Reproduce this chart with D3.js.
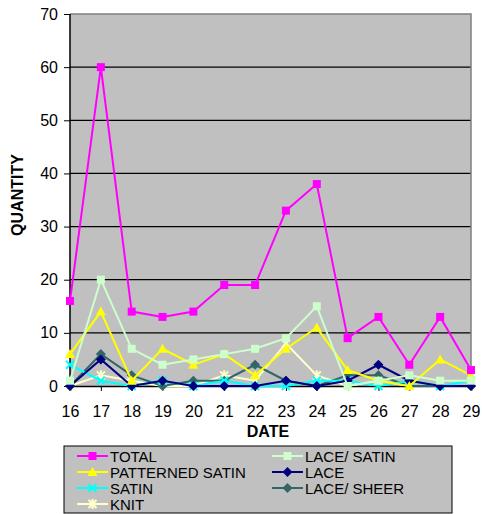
<!DOCTYPE html>
<html><head><meta charset="utf-8">
<script src="https://cdn.jsdelivr.net/npm/d3@7"></script>
<style>body{margin:0;background:#fff}svg{display:block}</style>
</head><body>
<script>
const dates = ["16","17","18","19","20","21","22","23","24","25","26","27","28","29"];
const yTicks = [0,10,20,30,40,50,60,70];
const total          = [16,60,14,13,14,19,19,33,38,9,13,4,13,3];
const laceSatin      = [1,20,7,4,5,6,7,9,15,0,1,2,1,1];
const patternedSatin = [6,14,1,7,4,6,2,7,11,3,1,0,5,2];
const lace           = [0,5,0,1,0,0,0,1,0,1,4,1,0,0];
const satin          = [4,1,0,1,0,1,0,0,1,1,0,1,0,1];
const laceSheer      = [0,6,2,0,1,1,4,1,0,2,2,0,0,0];
const knit           = [0,2,1,0,0,2,1,8,2,0,1,0,0,0];

const series = [
  {name:"TOTAL", values:total, color:"#FF00FF", marker:"square"},
  {name:"LACE/ SATIN", values:laceSatin, color:"#CCFFCC", marker:"square"},
  {name:"PATTERNED SATIN", values:patternedSatin, color:"#FFFF00", marker:"triangle"},
  {name:"LACE", values:lace, color:"#000080", marker:"diamond"},
  {name:"SATIN", values:satin, color:"#00FFFF", marker:"x"},
  {name:"LACE/ SHEER", values:laceSheer, color:"#336666", marker:"diamond"},
  {name:"KNIT", values:knit, color:"#FFFFCC", marker:"star"}
];

const W=482,H=514;
const svg=d3.select("body").append("svg").attr("width",W).attr("height",H)
  .style("font-family","Arial, 'Liberation Sans', sans-serif");
const L=70,R=471,T=14,B=386;
const x=d3.scalePoint().domain(dates).range([L,R]);
const y=d3.scaleLinear().domain([0,70]).range([B,T]);

svg.append("rect").attr("x",L).attr("y",T).attr("width",R-L).attr("height",B-T).attr("fill","#C0C0C0");
svg.append("g").selectAll("line").data(yTicks.filter(d=>d>0&&d<70)).join("line")
  .attr("x1",L).attr("x2",R).attr("y1",d=>y(d)).attr("y2",d=>y(d)).attr("stroke","#000").attr("stroke-width",1.2);
svg.append("path").attr("d",`M${L},${T}H${R}V${B}`).attr("fill","none").attr("stroke","#808080").attr("stroke-width",1.5);

const ya=svg.append("g").attr("transform",`translate(${L},0)`)
  .call(d3.axisLeft(y).tickValues(yTicks).tickSize(6).tickPadding(6));
const xa=svg.append("g").attr("transform",`translate(0,${B})`)
  .call(d3.axisBottom(x).tickSize(5).tickPadding(15));
[ya,xa].forEach(a=>{a.select(".domain").attr("stroke","#000").attr("stroke-width",1.5);
  a.selectAll("line").attr("stroke","#000");
  a.selectAll("text").attr("font-size",16).attr("fill","#000").attr("font-family","Arial, 'Liberation Sans', sans-serif");});
ya.select(".domain").attr("d",`M0,${T}V${B}`);

svg.append("text").attr("x",268).attr("y",437).attr("text-anchor","middle").attr("font-weight","bold").attr("font-size",16).text("DATE");
svg.append("text").attr("transform","translate(23,195) rotate(-90)").attr("text-anchor","middle").attr("font-weight","bold").attr("font-size",16).text("QUANTITY");

function drawMarker(g,type,color,s){
  if(type==="square") g.append("rect").attr("x",-s).attr("y",-s).attr("width",2*s).attr("height",2*s).attr("fill",color);
  else if(type==="triangle") g.append("path").attr("d",`M0,${-s-1}L${s+1},${s}L${-s-1},${s}Z`).attr("fill",color);
  else if(type==="diamond") g.append("path").attr("d",`M0,${-s-1}L${s+1},0L0,${s+1}L${-s-1},0Z`).attr("fill",color);
  else if(type==="x") g.append("path").attr("d",`M${-s},${-s}L${s},${s}M${-s},${s}L${s},${-s}`).attr("stroke",color).attr("stroke-width",2);
  else if(type==="star") g.append("path").attr("d",`M${-s},${-s}L${s},${s}M${-s},${s}L${s},${-s}M0,${-s-1}V${s+1}`).attr("stroke",color).attr("stroke-width",2);
}

const line=d3.line().x((d,i)=>x(dates[i])).y(d=>y(d));
const order=[...series].reverse();
order.forEach(s=>{
  svg.append("path").datum(s.values).attr("d",line).attr("fill","none").attr("stroke",s.color).attr("stroke-width",2);
  s.values.forEach((v,i)=>{
    const g=svg.append("g").attr("transform",`translate(${x(dates[i])},${y(v)})`);
    drawMarker(g,s.marker,s.color,4);
  });
});

const lg=svg.append("g");
lg.append("rect").attr("x",64).attr("y",446).attr("width",388).attr("height",67).attr("fill","#C0C0C0").attr("stroke","#000").attr("stroke-width",1);
const cols=[[0,2,4,6],[1,3,5]];
cols.forEach((c,ci)=>{
  c.forEach((si,ri)=>{
    const s=series[si];
    const x0=ci===0?77:272, yy=456+ri*16;
    lg.append("line").attr("x1",x0).attr("x2",x0+31).attr("y1",yy).attr("y2",yy).attr("stroke",s.color).attr("stroke-width",2);
    const g=lg.append("g").attr("transform",`translate(${x0+15.5},${yy})`);
    drawMarker(g,s.marker,s.color,4);
    lg.append("text").attr("x",x0+33).attr("y",yy+5.5).attr("font-size",15).attr("fill","#000").text(s.name);
  });
});
</script>
</body></html>
